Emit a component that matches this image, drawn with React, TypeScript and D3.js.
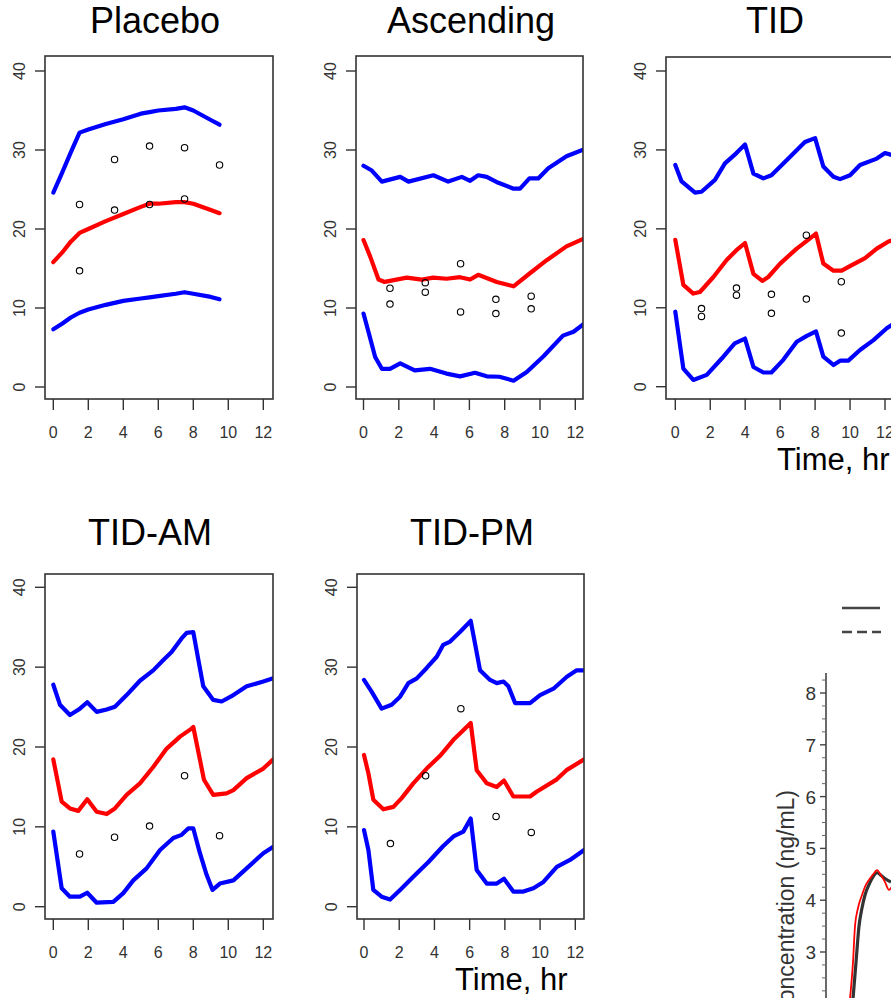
import React from "react";
import * as d3 from "d3";

// ---------- Data ----------
const xTicks = [0, 2, 4, 6, 8, 10, 12];
const yTicks = [0, 10, 20, 30, 40];

// Placebo
const placeboT = [0, 0.5, 1, 1.5, 2, 3, 4, 5, 5.5, 6, 7, 7.5, 8, 9, 9.5];
const placeboUpper = [24.6, 27.1, 29.7, 32.2, 32.6, 33.3, 33.9, 34.6, 34.8, 35.0, 35.2, 35.4, 35.0, 33.8, 33.2];
const placeboMid = [15.8, 17.0, 18.4, 19.5, 20.0, 21.0, 21.9, 22.8, 23.2, 23.2, 23.4, 23.4, 23.2, 22.4, 22.0];
const placeboLower = [7.3, 8.0, 8.8, 9.4, 9.8, 10.4, 10.9, 11.2, 11.35, 11.5, 11.8, 12.0, 11.8, 11.4, 11.1];
const placeboObsT = [1.5, 1.5, 3.5, 3.5, 5.5, 5.5, 7.5, 7.5, 9.5];
const placeboObs = [23.1, 14.7, 28.8, 22.4, 30.5, 23.1, 30.3, 23.8, 28.1];

// Ascending
const ascUpperT = [0, 0.47, 1.04, 2.08, 2.55, 3.96, 4.8, 5.57, 6.04, 6.5, 6.98, 7.64, 8.5, 8.87, 9.4, 9.9, 10.47, 11.5, 12.5];
const ascUpper = [28.0, 27.4, 26.0, 26.6, 26.0, 26.8, 26.0, 26.6, 26.1, 26.8, 26.6, 25.85, 25.1, 25.1, 26.4, 26.4, 27.7, 29.2, 30.1];
const ascMidT = [0, 0.38, 0.85, 1.2, 2.45, 3.3, 3.96, 4.7, 5.47, 6.04, 6.5, 7.55, 8.5, 9.43, 10.38, 11.5, 12.5];
const ascMid = [18.6, 16.5, 13.6, 13.3, 13.85, 13.6, 13.85, 13.7, 13.9, 13.6, 14.2, 13.3, 12.75, 14.4, 16.05, 17.8, 18.8];
const ascLowerT = [0, 0.28, 0.66, 1.04, 1.5, 2.08, 2.9, 3.77, 4.7, 5.47, 6.32, 6.98, 7.7, 8.5, 9.25, 10.2, 11.3, 11.9, 12.5];
const ascLower = [9.3, 7.0, 3.8, 2.3, 2.3, 3.0, 2.1, 2.3, 1.7, 1.35, 1.8, 1.35, 1.3, 0.8, 1.9, 3.9, 6.5, 7.0, 8.0];
const ascObsT = [1.5, 1.5, 3.5, 3.5, 5.5, 5.5, 7.5, 7.5, 9.5, 9.5];
const ascObs = [12.5, 10.5, 13.2, 12.0, 15.6, 9.5, 11.1, 9.3, 11.5, 9.9];

// TID
const tidUpperT = [0, 0.36, 1.13, 1.5, 2.27, 2.84, 3.5, 3.99, 4.47, 5.04, 5.5, 6.37, 7.42, 8.0, 8.47, 9.05, 9.43, 10.0, 10.57, 11.53, 12.0, 12.5];
const tidUpper = [28.1, 26.0, 24.6, 24.7, 26.2, 28.3, 29.6, 30.7, 27.0, 26.4, 26.8, 28.7, 31.0, 31.5, 27.9, 26.6, 26.3, 26.8, 28.1, 28.9, 29.6, 29.3];
const tidMidT = [0, 0.46, 1.03, 1.41, 2.18, 2.94, 3.5, 3.99, 4.47, 4.98, 5.32, 6.0, 6.95, 7.6, 8.05, 8.47, 9.05, 9.52, 10.1, 10.86, 11.53, 12.2, 12.5];
const tidMid = [18.6, 12.9, 11.8, 12.0, 13.9, 16.05, 17.3, 18.2, 14.3, 13.4, 13.9, 15.6, 17.5, 18.6, 19.4, 15.6, 14.7, 14.7, 15.4, 16.3, 17.5, 18.4, 18.6];
const tidLowerT = [0, 0.46, 1.03, 1.8, 2.75, 3.4, 3.99, 4.47, 5.04, 5.5, 6.18, 6.95, 7.5, 8.05, 8.47, 9.05, 9.43, 9.9, 10.57, 11.34, 12.1, 12.5];
const tidLower = [9.5, 2.3, 0.85, 1.5, 3.8, 5.5, 6.1, 2.5, 1.8, 1.8, 3.4, 5.7, 6.4, 7.0, 3.8, 2.75, 3.3, 3.3, 4.65, 5.9, 7.4, 8.0];
const tidObsT = [1.5, 1.5, 3.5, 3.5, 5.5, 5.5, 7.5, 7.5, 9.5, 9.5];
const tidObs = [9.9, 8.9, 12.5, 11.6, 11.7, 9.3, 19.2, 11.1, 13.3, 6.8];

// TID-AM
const amUpperT = [0, 0.38, 0.95, 1.52, 1.94, 2.48, 3.05, 3.52, 4.19, 4.95, 5.71, 6.29, 6.76, 7.33, 7.62, 8.0, 8.29, 8.57, 9.14, 9.62, 10.29, 11.05, 12.0, 12.57];
const amUpper = [27.8, 25.3, 24.0, 24.8, 25.6, 24.4, 24.7, 25.05, 26.5, 28.3, 29.6, 30.9, 31.9, 33.6, 34.3, 34.4, 30.9, 27.6, 25.9, 25.7, 26.5, 27.6, 28.2, 28.6];
const amMidT = [0, 0.48, 0.95, 1.43, 1.94, 2.48, 3.05, 3.52, 4.19, 4.95, 5.71, 6.48, 7.24, 7.9, 8.0, 8.38, 8.61, 9.14, 9.9, 10.29, 11.05, 12.0, 12.57];
const amMid = [18.45, 13.15, 12.3, 12.0, 13.45, 11.9, 11.6, 12.3, 14.0, 15.45, 17.5, 19.8, 21.3, 22.3, 22.5, 18.4, 15.9, 14.0, 14.2, 14.6, 16.1, 17.3, 18.45];
const amLowerT = [0, 0.48, 0.95, 1.52, 1.94, 2.48, 3.43, 4.0, 4.57, 5.33, 6.1, 6.86, 7.33, 7.71, 8.0, 8.38, 8.76, 9.1, 9.52, 10.29, 11.05, 12.0, 12.57];
const amLower = [9.4, 2.3, 1.25, 1.25, 1.75, 0.5, 0.6, 1.7, 3.3, 4.8, 7.1, 8.6, 9.0, 9.8, 9.8, 6.7, 4.0, 2.1, 2.9, 3.3, 4.8, 6.7, 7.5];
const amObsT = [1.5, 3.5, 5.5, 7.5, 9.5];
const amObs = [6.6, 8.7, 10.1, 16.4, 8.9];

// TID-PM
const pmUpperT = [0, 0.44, 1.0, 1.57, 2.05, 2.52, 3.0, 3.56, 4.13, 4.5, 4.89, 5.45, 6.06, 6.3, 6.59, 7.16, 7.54, 7.92, 8.2, 8.58, 9.43, 10.0, 10.76, 11.52, 12.08, 12.5];
const pmUpper = [28.4, 26.9, 24.8, 25.3, 26.3, 28.0, 28.6, 29.9, 31.3, 32.8, 33.2, 34.4, 35.8, 33.0, 29.6, 28.4, 28.0, 28.2, 27.6, 25.5, 25.5, 26.5, 27.3, 28.8, 29.6, 29.6];
const pmMidT = [0, 0.25, 0.53, 1.1, 1.67, 2.14, 2.8, 3.56, 4.32, 5.08, 5.64, 6.06, 6.4, 6.97, 7.54, 7.95, 8.48, 9.43, 9.8, 10.95, 11.5, 12.5];
const pmMid = [19.0, 16.7, 13.4, 12.2, 12.5, 13.6, 15.45, 17.3, 18.9, 20.9, 22.1, 23.0, 17.1, 15.45, 15.0, 15.8, 13.8, 13.8, 14.4, 15.95, 17.1, 18.45];
const pmLowerT = [0, 0.25, 0.53, 1.0, 1.48, 2.05, 2.8, 3.66, 4.5, 5.08, 5.64, 6.06, 6.4, 6.97, 7.54, 7.95, 8.48, 9.05, 9.62, 10.19, 10.95, 11.7, 12.5];
const pmLower = [9.6, 7.1, 2.1, 1.25, 0.9, 2.1, 3.75, 5.6, 7.6, 8.8, 9.4, 11.05, 4.6, 2.9, 2.9, 3.5, 1.9, 1.9, 2.3, 3.1, 5.0, 5.85, 7.1];
const pmObsT = [1.5, 3.5, 5.5, 7.5, 9.5];
const pmObs = [7.9, 16.4, 24.8, 11.3, 9.3];

// Partial concentration chart (bottom right)
const concTicks = [3, 4, 5, 6, 7, 8];
const concRedT = [1.2, 1.35, 1.45, 1.6, 1.8, 2.0, 2.2, 2.4, 2.55, 2.75, 2.95, 3.15, 3.35];
const concRed = [2.1, 2.8, 3.5, 3.85, 4.1, 4.3, 4.42, 4.52, 4.58, 4.48, 4.35, 4.2, 4.3];
const concBlackT = [1.35, 1.5, 1.65, 1.8, 1.95, 2.15, 2.35, 2.55, 2.75, 2.95, 3.25];
const concBlack = [2.1, 2.8, 3.5, 3.85, 4.1, 4.3, 4.45, 4.53, 4.48, 4.42, 4.35];

// ---------- Layout ----------
const FONT = "'Liberation Sans', Arial, Helvetica, sans-serif";

type Series = { t: number[]; v: number[]; color: string };
type PanelDef = {
  title: string;
  box: [number, number, number, number]; // x0, y0, x1, y1
  xr: [number, number];
  yr: [number, number];
  titleX: number;
  titleY: number;
  series: Series[];
  obsT: number[];
  obs: number[];
  xTitle?: [number, number];
};

const BLUE = "#0000ff";
const RED = "#ff0000";

const panels: PanelDef[] = [
  {
    title: "Placebo", box: [45, 56, 273, 399], xr: [53.3, 263.3], yr: [387, 71], titleX: 155, titleY: 33,
    series: [
      { t: placeboT, v: placeboUpper, color: BLUE },
      { t: placeboT, v: placeboMid, color: RED },
      { t: placeboT, v: placeboLower, color: BLUE },
    ],
    obsT: placeboObsT, obs: placeboObs,
  },
  {
    title: "Ascending", box: [356, 56, 583, 399], xr: [363.5, 575.3], yr: [387, 71], titleX: 471, titleY: 33,
    series: [
      { t: ascUpperT, v: ascUpper, color: BLUE },
      { t: ascMidT, v: ascMid, color: RED },
      { t: ascLowerT, v: ascLower, color: BLUE },
    ],
    obsT: ascObsT, obs: ascObs,
  },
  {
    title: "TID", box: [666, 57, 894, 399], xr: [675.3, 885], yr: [386.7, 71], titleX: 775, titleY: 33,
    series: [
      { t: tidUpperT, v: tidUpper, color: BLUE },
      { t: tidMidT, v: tidMid, color: RED },
      { t: tidLowerT, v: tidLower, color: BLUE },
    ],
    obsT: tidObsT, obs: tidObs, xTitle: [777, 470],
  },
  {
    title: "TID-AM", box: [45, 574, 273, 919], xr: [53.3, 263.3], yr: [906.7, 587.3], titleX: 150, titleY: 545,
    series: [
      { t: amUpperT, v: amUpper, color: BLUE },
      { t: amMidT, v: amMid, color: RED },
      { t: amLowerT, v: amLower, color: BLUE },
    ],
    obsT: amObsT, obs: amObs,
  },
  {
    title: "TID-PM", box: [357, 574, 584, 919], xr: [364, 575.3], yr: [906.7, 587.3], titleX: 472, titleY: 545,
    series: [
      { t: pmUpperT, v: pmUpper, color: BLUE },
      { t: pmMidT, v: pmMid, color: RED },
      { t: pmLowerT, v: pmLower, color: BLUE },
    ],
    obsT: pmObsT, obs: pmObs, xTitle: [455, 990],
  },
];

function Panel({ p, idx }: { p: PanelDef; idx: number }) {
  const [x0, y0, x1, y1] = p.box;
  const x = d3.scaleLinear().domain([0, 12]).range(p.xr);
  const y = d3.scaleLinear().domain([0, 40]).range(p.yr);
  const line = d3
    .line<[number, number]>()
    .x((d) => x(d[0]))
    .y((d) => y(d[1]));
  const clipId = `clip-${idx}`;
  return (
    <g>
      <defs>
        <clipPath id={clipId}>
          <rect x={x0} y={y0} width={x1 - x0} height={y1 - y0} />
        </clipPath>
      </defs>
      <text x={p.titleX} y={p.titleY} textAnchor="middle" fontSize={36} fontFamily={FONT} fill="#000">
        {p.title}
      </text>
      <g clipPath={`url(#${clipId})`}>
        {p.series.map((s, i) => (
          <path
            key={i}
            d={line(s.t.map((t, j) => [t, s.v[j]] as [number, number])) || ""}
            fill="none"
            stroke={s.color}
            strokeWidth={4.2}
            strokeLinejoin="round"
            strokeLinecap="round"
          />
        ))}
        {p.obsT.map((t, i) => (
          <circle key={i} cx={x(t)} cy={y(p.obs[i])} r={3.2} fill="none" stroke="#000" strokeWidth={1.1} />
        ))}
      </g>
      <rect x={x0} y={y0} width={x1 - x0} height={y1 - y0} fill="none" stroke="#333" strokeWidth={1.6} />
      {yTicks.map((v) => (
        <g key={v}>
          <line x1={x0 - 10} x2={x0} y1={y(v)} y2={y(v)} stroke="#333" strokeWidth={1.4} />
          <text
            transform={`translate(${x0 - 20},${y(v)}) rotate(-90)`}
            textAnchor="middle"
            fontSize={16}
            fontFamily={FONT}
            fill="#333"
          >
            {v}
          </text>
        </g>
      ))}
      {xTicks.map((t) => (
        <g key={t}>
          <line x1={x(t)} x2={x(t)} y1={y1} y2={y1 + 11} stroke="#333" strokeWidth={1.4} />
          <text x={x(t)} y={y1 + 38.5} textAnchor="middle" fontSize={16} fontFamily={FONT} fill="#333">
            {t}
          </text>
        </g>
      ))}
      {p.xTitle && (
        <text x={p.xTitle[0]} y={p.xTitle[1]} fontSize={31} fontFamily={FONT} fill="#000">
          Time, hr
        </text>
      )}
    </g>
  );
}

function ConcChart() {
  const x = d3.scaleLinear().domain([0, 3]).range([826, 886]);
  const y = d3.scaleLinear().domain([3, 8]).range([952, 693]);
  const line = d3
    .line<[number, number]>()
    .x((d) => x(d[0]))
    .y((d) => y(d[1]))
    .curve(d3.curveMonotoneX);
  const minor = d3.range(1.5, 8.5, 0.25).filter((v) => Math.abs(v - Math.round(v)) > 0.01);
  return (
    <g>
      <line x1={842} x2={880} y1={608} y2={608} stroke="#444" strokeWidth={2.4} />
      <line x1={842} x2={881} y1={632} y2={632} stroke="#444" strokeWidth={2.6} strokeDasharray="10 5" />
      <line x1={826} x2={826} y1={673} y2={1000} stroke="#444" strokeWidth={1.6} />
      {concTicks.map((v) => (
        <g key={v}>
          <line x1={820} x2={826} y1={y(v)} y2={y(v)} stroke="#444" strokeWidth={1.4} />
          <text x={816} y={y(v) + 7} textAnchor="end" fontSize={19} fontFamily={FONT} fill="#333">
            {v}
          </text>
        </g>
      ))}
      {minor.map((v) => (
        <line key={v} x1={822} x2={826} y1={y(v)} y2={y(v)} stroke="#666" strokeWidth={1} />
      ))}
      <text
        transform={`translate(794,790) rotate(-90)`}
        textAnchor="end"
        fontSize={23}
        fontFamily={FONT}
        fill="#333"
      >
        Concentration (ng/mL)
      </text>
      <path
        d={line(concBlackT.map((t, i) => [t, concBlack[i]] as [number, number])) || ""}
        fill="none"
        stroke="#333"
        strokeWidth={3.2}
      />
      <path
        d={line(concRedT.map((t, i) => [t, concRed[i]] as [number, number])) || ""}
        fill="none"
        stroke={RED}
        strokeWidth={1.8}
      />
    </g>
  );
}

export default function App() {
  return (
    <svg
      width={891}
      height={998}
      viewBox="0 0 891 998"
      style={{ position: "absolute", left: 0, top: 0, background: "#fff", display: "block" }}
    >
      <rect x={0} y={0} width={891} height={998} fill="#fff" />
      {panels.map((p, i) => (
        <Panel key={p.title} p={p} idx={i} />
      ))}
      <ConcChart />
    </svg>
  );
}
